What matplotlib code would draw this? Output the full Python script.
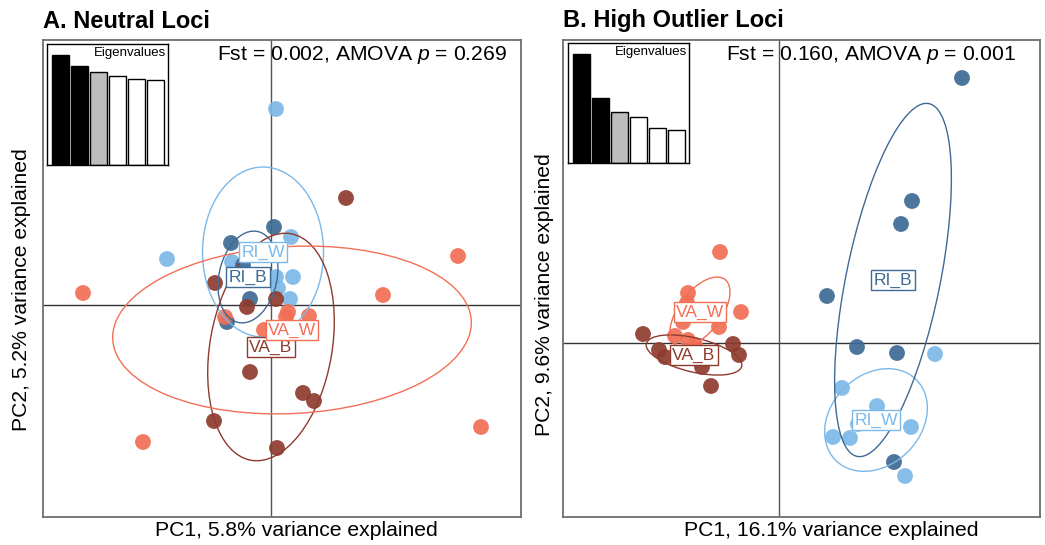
import numpy as np
import matplotlib
matplotlib.use("Agg")
import matplotlib.pyplot as plt
from matplotlib.patches import Ellipse

plt.rcParams['font.family'] = ['Liberation Sans', 'DejaVu Sans']
plt.rcParams['mathtext.fontset'] = 'custom'
plt.rcParams['mathtext.rm'] = 'Liberation Sans'
plt.rcParams['mathtext.it'] = 'Liberation Sans:italic'

groups = ['RI_W', 'RI_B', 'VA_B', 'VA_W']
colors = {'VA_W': '#F26F55', 'VA_B': '#8E3B2E', 'RI_W': '#7CB8E8', 'RI_B': '#3E6A95'}

# panel A: neutral loci (PC scores)
a_x = {
    'VA_W': [-1.88, 1.12, 1.87, 2.10, -1.28, 0.17, 0.15, 0.38, -0.46, -0.07],
    'VA_B': [0.75, -0.56, -0.24, 0.05, -0.21, 0.32, 0.43, -0.57, 0.06],
    'RI_W': [0.05, 0.20, -1.04, -0.39, 0.05, 0.22, 0.07, 0.19],
    'RI_B': [0.03, -0.40, -0.28, -0.21, -0.44, -0.23],
}
a_y = {
    'VA_W': [0.12, 0.10, 0.49, -1.22, -1.37, -0.07, -0.12, -0.11, -0.12, -0.25],
    'VA_B': [1.07, 0.22, -0.02, 0.06, -0.67, -0.88, -0.96, -1.16, -1.43],
    'RI_W': [1.96, 0.68, 0.46, 0.43, 0.28, 0.28, 0.17, 0.06],
    'RI_B': [0.78, 0.62, 0.40, 0.06, -0.17, 0.27],
}
# ellipse: centre x, centre y, width, height, angle
a_ell = {
    'RI_W': (-0.08, 0.53, 1.21, 1.70, 0),
    'RI_B': (-0.23, 0.28, 0.58, 0.93, -12),
    'VA_B': (0.00, -0.42, 1.22, 2.30, -10),
    'VA_W': (0.21, -0.25, 3.59, 1.67, 3),
}
a_eig = [5.8, 5.2, 4.9, 4.7, 4.55, 4.5]

# panel B: high outlier loci
b_x = {
    'VA_W': [-0.59, -0.91, -0.38, -0.96, -0.72, -0.60, -1.04, -0.91, -0.84, -0.92],
    'VA_B': [-1.36, -1.20, -1.14, -0.46, -0.40, -0.77, -0.68, -0.86],
    'RI_W': [1.56, 0.63, 0.98, 0.79, 1.32, 0.54, 0.71, 1.26],
    'RI_B': [1.83, 1.33, 1.22, 0.48, 0.78, 1.18, 1.15],
}
b_y = {
    'VA_W': [0.91, 0.50, 0.31, 0.21, 0.33, 0.16, 0.07, 0.03, -0.02, 0.40],
    'VA_B': [0.09, -0.07, -0.14, -0.01, -0.12, -0.24, -0.43, -0.09],
    'RI_W': [-0.11, -0.45, -0.63, -0.81, -0.84, -0.94, -0.95, -1.33],
    'RI_B': [2.65, 1.42, 1.19, 0.47, -0.04, -0.10, -1.19],
}
b_ell = {
    'RI_W': (0.97, -0.77, 1.14, 0.90, 45),
    'RI_B': (1.14, 0.63, 0.94, 3.60, -11.5),
    'VA_B': (-0.85, -0.12, 0.98, 0.34, -13.4),
    'VA_W': (-0.79, 0.31, 0.82, 0.42, 52.6),
}
b_eig = [16.1, 9.6, 7.5, 6.8, 5.2, 4.9]

W, H = 1045, 545
fig = plt.figure(figsize=(W / 100, H / 100), dpi=100)


def px_rect(x0, y0, x1, y1):
    return [x0 / W, 1 - y1 / H, (x1 - x0) / W, (y1 - y0) / H]


def panel(rect, xs, ys, ell, xlim, ylim, eig, inset_rect, stat, stat_x):
    ax = fig.add_axes(rect)
    ax.set_xlim(xlim)
    ax.set_ylim(ylim)
    ax.set_xticks([])
    ax.set_yticks([])
    for s in ax.spines.values():
        s.set_color('#6e6e6e')
        s.set_linewidth(1.3)
    ax.axhline(0, color='#333333', lw=1.0, zorder=1)
    ax.axvline(0, color='#555555', lw=1.0, zorder=1)
    for g in groups:
        ax.scatter(xs[g], ys[g], s=130, color=colors[g], alpha=0.92,
                   edgecolors='none', zorder=2)
    for g in groups:
        cx, cy, w, h, ang = ell[g]
        ax.add_patch(Ellipse((cx, cy), w, h, angle=ang, fill=False,
                             edgecolor=colors[g], lw=1.0, zorder=3))
    for g in groups:
        cx, cy = ell[g][0], ell[g][1]
        ax.text(cx, cy, g, color=colors[g], fontsize=12.5, ha='center',
                va='center', zorder=4,
                bbox=dict(boxstyle='square,pad=0.14', fc='white',
                          ec=colors[g], lw=1.0))
    ax.text(stat_x, 0.968, stat, transform=ax.transAxes, ha='right',
            va='center', fontsize=15.2, zorder=5)

    ins = fig.add_axes(inset_rect)
    bar_cols = ['black', 'black', '#bdbdbd', 'white', 'white', 'white']
    ins.bar(np.arange(len(eig)), eig, width=0.9, color=bar_cols,
            edgecolor='black', lw=1.0)
    ins.set_xlim(-0.71, 5.66)
    ins.set_ylim(0, max(eig) * 1.1)
    ins.set_xticks([])
    ins.set_yticks([])
    for s in ins.spines.values():
        s.set_linewidth(1.0)
    ins.text(0.985, 0.975, 'Eigenvalues', transform=ins.transAxes,
             ha='right', va='top', fontsize=9.5)
    return ax


panel(px_rect(43, 40, 521, 517), a_x, a_y, a_ell, (-2.28, 2.50),
      (-2.12, 2.65), a_eig, px_rect(47, 44, 168, 165),
      'Fst = 0.002, AMOVA $p$ = 0.269', 0.971)
panel(px_rect(563, 40, 1040, 517), b_x, b_y, b_ell, (-2.16, 2.61),
      (-1.74, 3.03), b_eig, px_rect(568, 43, 689, 163),
      'Fst = 0.160, AMOVA $p$ = 0.001', 0.950)

fig.text(43 / W, 1 - 21 / H, 'A. Neutral Loci', fontsize=17,
         fontweight='bold', ha='left', va='center')
fig.text(563 / W, 1 - 21 / H, 'B. High Outlier Loci', fontsize=17,
         fontweight='bold', ha='left', va='center')
fig.text(296 / W, 1 - 530 / H, 'PC1, 5.8% variance explained',
         fontsize=15.2, ha='center', va='center')
fig.text(831 / W, 1 - 530 / H, 'PC1, 16.1% variance explained',
         fontsize=15.2, ha='center', va='center')
fig.text(22 / W, 1 - 290 / H, 'PC2, 5.2% variance explained',
         fontsize=15.2, ha='center', va='center', rotation=90)
fig.text(545 / W, 1 - 295 / H, 'PC2, 9.6% variance explained',
         fontsize=15.2, ha='center', va='center', rotation=90)

fig.savefig('out.png', dpi=100)
